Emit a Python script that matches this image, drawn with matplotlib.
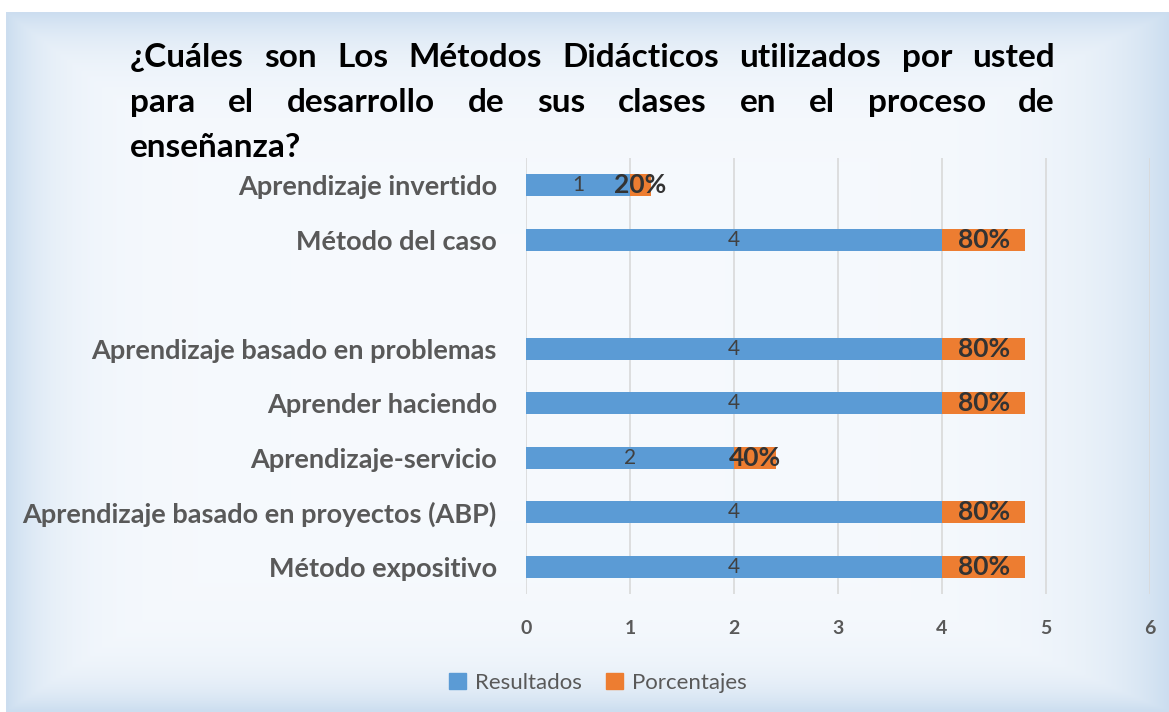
import numpy as np
import matplotlib.pyplot as plt
from matplotlib.patches import Patch

# data, bottom to top (empty slot kept as in the original chart)
metodos = ['Método expositivo', 'Aprendizaje basado en proyectos (ABP)',
           'Aprendizaje-servicio', 'Aprender haciendo',
           'Aprendizaje basado en problemas', '', 'Método del caso',
           'Aprendizaje invertido']
resultados = [4, 4, 2, 4, 4, np.nan, 4, 1]
porcentajes = [0.8, 0.8, 0.4, 0.8, 0.8, np.nan, 0.8, 0.2]
titulo = ['¿Cuáles son Los Métodos Didácticos utilizados por usted',
          'para el desarrollo de sus clases en el proceso de',
          'enseñanza?']

AZUL = '#5B9BD5'
NARANJA = '#ED7D31'
GRIS = '#595959'
FONT = 'Lato'

W, H = 1169, 712
fig = plt.figure(figsize=(W / 100, H / 100), dpi=100)
fig.patch.set_facecolor('white')

# light blue gradient panel behind the chart
bg = fig.add_axes([6 / W, 0, 1 - 6 / W, 1 - 12 / H])
bg.set_zorder(-1)
nx, ny = 400, 250
xx, yy = np.meshgrid(np.linspace(0, W - 6, nx), np.linspace(0, H - 12, ny))
w = np.maximum.reduce([np.exp(-xx / 45), np.exp(-(W - 6 - xx) / 70),
                       np.exp(-yy / 35), np.exp(-(H - 12 - yy) / 30)])
edge = np.array([0.80, 0.87, 0.94])
center = np.array([0.965, 0.978, 0.993])
img = center + (edge - center) * w[..., None]
bg.imshow(img, aspect='auto', extent=[0, 1, 0, 1], origin='upper')
bg.axis('off')

ax = fig.add_axes([526 / W, 1 - 594 / H, (1150 - 526) / W, (594 - 158) / H])
ax.set_facecolor('none')
y = np.arange(len(metodos))
ax.barh(y, resultados, height=0.4, color=AZUL, label='Resultados', zorder=3)
ax.barh(y, porcentajes, left=resultados, height=0.4, color=NARANJA,
        label='Porcentajes', zorder=3)

for i in range(len(metodos)):
    r, p = resultados[i], porcentajes[i]
    if np.isnan(r):
        continue
    ax.text(r / 2, i, f'{r:g}', ha='center', va='center', color='#404040',
            fontsize=15, family=FONT, zorder=4)
    ax.text(r + p / 2, i, f'{p:.0%}', ha='center', va='center', color='#333333',
            fontsize=19, fontweight='bold', family=FONT, zorder=4)

ax.set_xlim(0, 6)
ax.set_ylim(-0.5, len(metodos) - 0.5)
ax.set_xticks(range(7))
ax.set_yticks(y)
ax.set_yticklabels(metodos)
ax.tick_params(length=0)
ax.tick_params(axis='y', pad=21)
ax.tick_params(axis='x', pad=19)
for lab in ax.get_yticklabels():
    lab.set_fontsize(19.5)
    lab.set_fontweight('bold')
    lab.set_color(GRIS)
    lab.set_family(FONT)
for lab in ax.get_xticklabels():
    lab.set_fontsize(14)
    lab.set_fontweight('bold')
    lab.set_color(GRIS)
    lab.set_family(FONT)
ax.grid(axis='x', color='#d9d9d9', lw=1.2, zorder=0)
for s in ax.spines.values():
    s.set_visible(False)

handles = [Patch(color=AZUL), Patch(color=NARANJA)]
fig.legend(handles, ['Resultados', 'Porcentajes'], loc='center',
           bbox_to_anchor=(598 / W, 1 - 683 / H), ncol=2, frameon=False,
           handlelength=0.75, handleheight=0.75, handletextpad=0.4,
           columnspacing=1.1, prop={'family': FONT, 'size': 16},
           labelcolor=GRIS)

# justified title
renderer = fig.canvas.get_renderer()
x0, x1 = 130, 1055
baselines = [67, 112, 157]
for k, linea in enumerate(titulo):
    palabras = linea.split()
    objs = [fig.text(0, 1 - baselines[k] / H, p, fontsize=24, fontweight='bold',
                     family=FONT, color='black', va='baseline', ha='left')
            for p in palabras]
    anchos = [o.get_window_extent(renderer).width for o in objs]
    if k < len(titulo) - 1 and len(palabras) > 1:
        gap = (x1 - x0 - sum(anchos)) / (len(palabras) - 1)
    else:
        gap = 8
    xpos = x0
    for o, a in zip(objs, anchos):
        o.set_x(xpos / W)
        xpos += a + gap

fig.savefig('out.png', dpi=100)
